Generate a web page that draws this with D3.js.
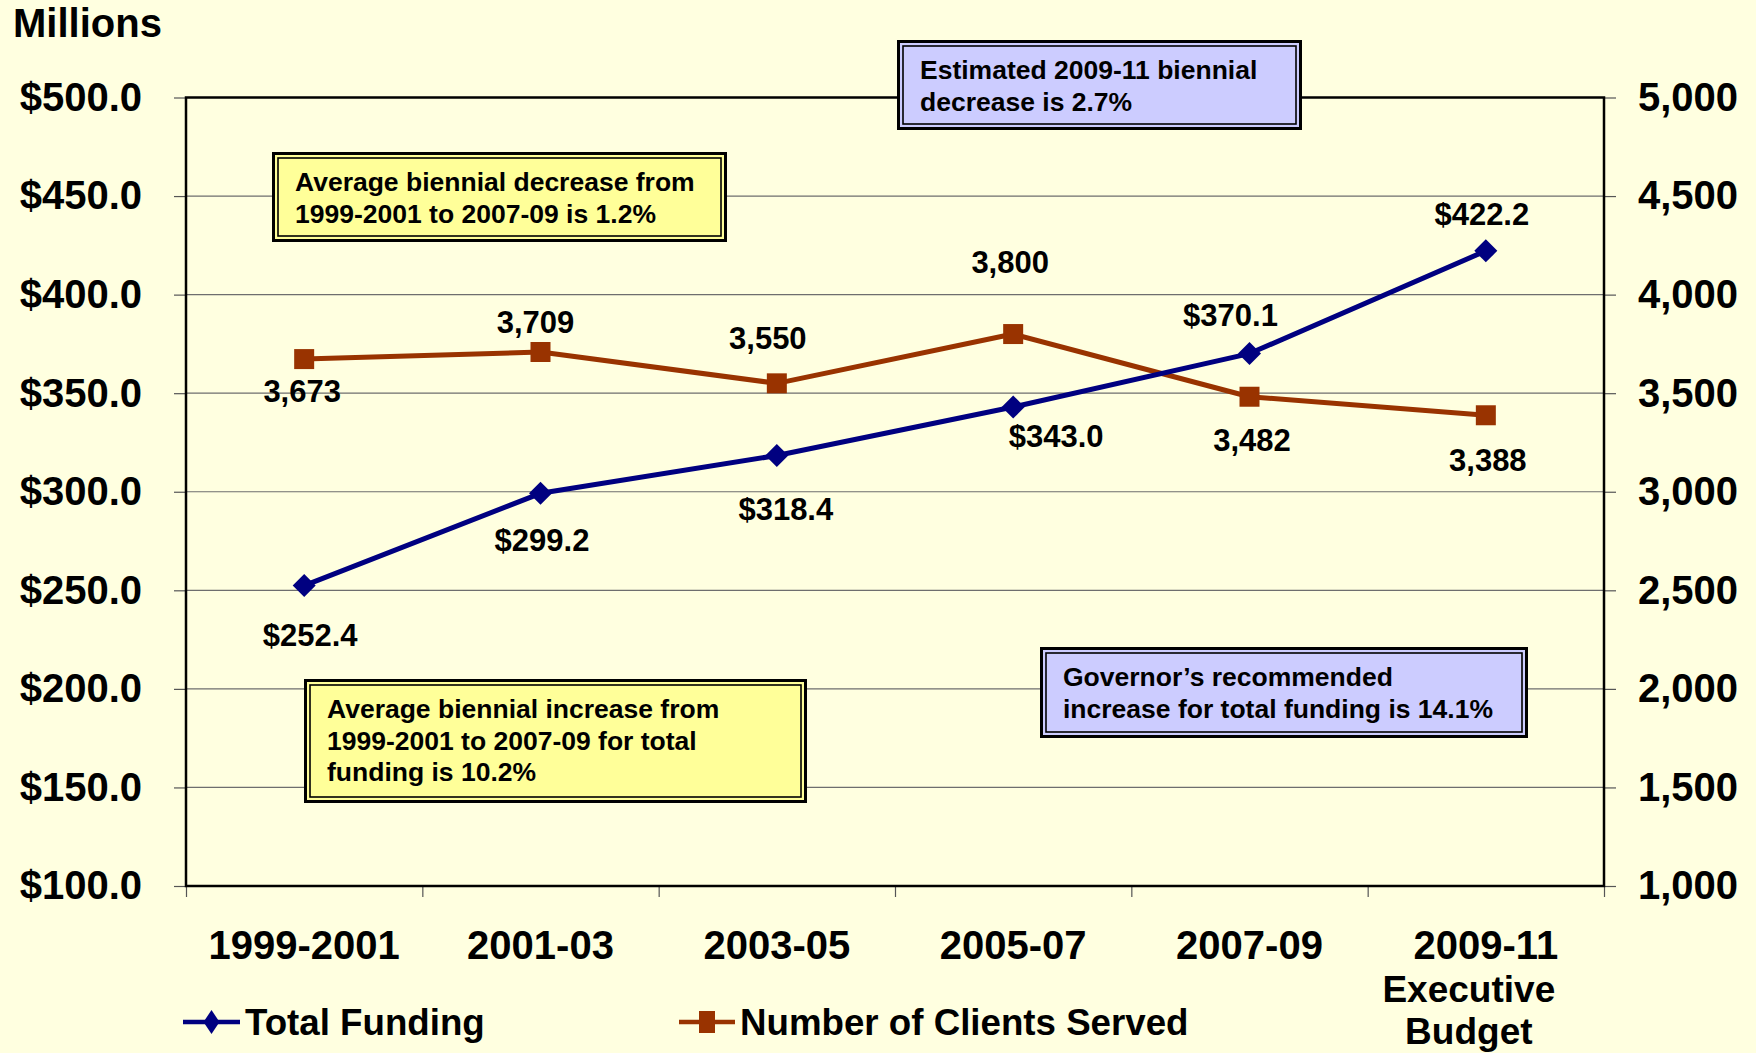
<!DOCTYPE html>
<html>
<head>
<meta charset="utf-8">
<script src="https://cdn.jsdelivr.net/npm/d3@7"></script>
<style>
  body { margin: 0; background: #ffffe0; }
  svg { display: block; }
  text { font-family: "Liberation Sans", Arial, sans-serif; font-weight: bold; fill: #000; }
</style>
</head>
<body>
<svg width="1756" height="1053"></svg>
<script>
const width = 1756, height = 1053;

// data
const periods = ['1999-2001', '2001-03', '2003-05', '2005-07', '2007-09', '2009-11'];
const funding = [252.4, 299.2, 318.4, 343.0, 370.1, 422.2];   // $ millions
const clients = [3673, 3709, 3550, 3800, 3482, 3388];
const leftTicks = [100, 150, 200, 250, 300, 350, 400, 450, 500];
const rightTicks = [1000, 1500, 2000, 2500, 3000, 3500, 4000, 4500, 5000];
const seriesNames = ['Total Funding', 'Number of Clients Served'];

// where each value label sits relative to its point
const fundingLabelShift = [[6, 60], [1.5, 58], [9, 65], [43, 40], [-19, -28], [-4, -26]];
const clientLabelShift = [[-2, 43], [-5, -19], [-9, -34], [-3, -61], [2.5, 54], [2, 56]];

// text boxes
const notes = [
  { lines: ['Average biennial decrease from', '1999-2001 to 2007-09 is 1.2%'], x: 272, y: 152, w: 455, h: 90, fill: '#ffff99' },
  { lines: ['Estimated 2009-11 biennial', 'decrease is 2.7%'], x: 897, y: 40, w: 405, h: 90, fill: '#ccccff' },
  { lines: ['Average biennial increase from', '1999-2001 to 2007-09 for total', 'funding is 10.2%'], x: 304, y: 679, w: 503, h: 124, fill: '#ffff99' },
  { lines: ['Governor\u2019s recommended', 'increase for total funding is 14.1%'], x: 1040, y: 647, w: 488, h: 91, fill: '#ccccff' }
];

const blue = '#000080', brown = '#993300';
const plotLeft = 186, plotRight = 1604, plotTop = 97.5, plotBottom = 886;

const svg = d3.select('svg');
svg.append('rect').attr('width', width).attr('height', height).attr('fill', '#ffffe0');

const x = d3.scaleBand().domain(periods).range([plotLeft, plotRight]);
const cx = d => x(d) + x.bandwidth() / 2;
const yL = d3.scaleLinear().domain([100, 500]).range([plotBottom, plotTop]);
const yR = d3.scaleLinear().domain([1000, 5000]).range([plotBottom, plotTop]);

// gridlines
svg.append('g')
  .selectAll('line')
  .data(leftTicks.slice(1, -1))
  .enter()
  .append('line')
  .attr('x1', plotLeft).attr('x2', plotRight)
  .attr('y1', d => yL(d)).attr('y2', d => yL(d))
  .attr('stroke', '#6e6e6e').attr('stroke-width', 1.2);

// axes
const leftAxis = svg.append('g')
  .attr('transform', `translate(${plotLeft},0)`)
  .call(d3.axisLeft(yL).tickValues(leftTicks).tickSize(12).tickPadding(32)
    .tickFormat(d => '$' + d.toFixed(1)));

const rightAxis = svg.append('g')
  .attr('transform', `translate(${plotRight},0)`)
  .call(d3.axisRight(yR).tickValues(rightTicks).tickSize(12).tickPadding(22)
    .tickFormat(d3.format(',')));

const xEdges = d3.scaleLinear().domain([0, periods.length]).range([plotLeft, plotRight]);
const bottomAxis = svg.append('g')
  .attr('transform', `translate(0,${plotBottom})`)
  .call(d3.axisBottom(xEdges).tickValues(d3.range(periods.length + 1)).tickSize(11).tickFormat(''));

[leftAxis, rightAxis, bottomAxis].forEach(g => {
  g.select('.domain').remove();
  g.selectAll('line').attr('stroke', '#555').attr('stroke-width', 1.2);
  g.selectAll('text')
    .style('font-family', '"Liberation Sans", Arial, sans-serif')
    .style('font-weight', 'bold')
    .style('font-size', '40px')
    .attr('fill', '#000');
});

// plot frame
svg.append('rect')
  .attr('x', plotLeft).attr('y', plotTop)
  .attr('width', plotRight - plotLeft).attr('height', plotBottom - plotTop)
  .attr('fill', 'none').attr('stroke', '#000').attr('stroke-width', 2.5);

// category labels
svg.append('g')
  .selectAll('text')
  .data(periods)
  .enter()
  .append('text')
  .attr('x', d => cx(d))
  .attr('y', 959)
  .attr('text-anchor', 'middle')
  .style('font-size', '40px')
  .text(d => d);

const lastX = cx(periods[periods.length - 1]) - 17;
['Executive', 'Budget'].forEach((t, i) => {
  svg.append('text')
    .attr('x', lastX).attr('y', 1002 + i * 42)
    .attr('text-anchor', 'middle')
    .style('font-size', '37px')
    .text(t);
});

// Millions
svg.append('text')
  .attr('x', 13).attr('y', 37)
  .style('font-size', '40px')
  .text('Millions');

// note boxes
const noteGroups = svg.append('g')
  .selectAll('g')
  .data(notes)
  .enter()
  .append('g')
  .attr('transform', d => `translate(${d.x},${d.y})`);

noteGroups.append('rect')
  .attr('x', 1.5).attr('y', 1.5)
  .attr('width', d => d.w - 3).attr('height', d => d.h - 3)
  .attr('fill', d => d.fill)
  .attr('stroke', '#000').attr('stroke-width', 3);

noteGroups.append('rect')
  .attr('x', 6).attr('y', 6)
  .attr('width', d => d.w - 12).attr('height', d => d.h - 12)
  .attr('fill', 'none')
  .attr('stroke', '#000').attr('stroke-width', 1.6);

noteGroups.each(function(d) {
  const g = d3.select(this);
  d.lines.forEach((line, i) => {
    g.append('text')
      .attr('x', 23).attr('y', 39 + i * 31.5)
      .style('font-size', '26.5px')
      .text(line);
  });
});

// series
const diamond = r => `M0,${-r}L${r},0L0,${r}L${-r},0Z`;

function drawSeries(values, yScale, color, marker) {
  const g = svg.append('g');
  g.append('path')
    .datum(values)
    .attr('fill', 'none')
    .attr('stroke', color)
    .attr('stroke-width', 5)
    .attr('stroke-linejoin', 'round')
    .attr('d', d3.line().x((d, i) => cx(periods[i])).y(d => yScale(d)));

  g.selectAll('.mk')
    .data(values)
    .enter()
    .append('path')
    .attr('class', 'mk')
    .attr('fill', color)
    .attr('transform', (d, i) => `translate(${cx(periods[i])},${yScale(d)})`)
    .attr('d', marker);
}

drawSeries(clients, yR, brown, 'M-10,-10H10V10H-10Z');
drawSeries(funding, yL, blue, diamond(11.5));

// value labels
svg.append('g')
  .selectAll('text')
  .data(clients)
  .enter()
  .append('text')
  .attr('x', (d, i) => cx(periods[i]) + clientLabelShift[i][0])
  .attr('y', (d, i) => yR(d) + clientLabelShift[i][1])
  .attr('text-anchor', 'middle')
  .style('font-size', '31px')
  .text(d => d3.format(',')(d));

svg.append('g')
  .selectAll('text')
  .data(funding)
  .enter()
  .append('text')
  .attr('x', (d, i) => cx(periods[i]) + fundingLabelShift[i][0])
  .attr('y', (d, i) => yL(d) + fundingLabelShift[i][1])
  .attr('text-anchor', 'middle')
  .style('font-size', '31px')
  .text(d => '$' + d.toFixed(1));

// legend
const legend = svg.append('g');
const legendItems = [
  { name: seriesNames[0], color: blue, x0: 183, x1: 240, marker: 'M0,-12L8,0L0,12L-8,0Z' },
  { name: seriesNames[1], color: brown, x0: 679, x1: 735, marker: 'M-8,-11H8V11H-8Z' }
];
legendItems.forEach(it => {
  legend.append('line')
    .attr('x1', it.x0).attr('x2', it.x1)
    .attr('y1', 1022).attr('y2', 1022)
    .attr('stroke', it.color).attr('stroke-width', 4.5);
  legend.append('path')
    .attr('transform', `translate(${(it.x0 + it.x1) / 2},1022)`)
    .attr('d', it.marker)
    .attr('fill', it.color);
  legend.append('text')
    .attr('x', it.x1 + 5).attr('y', 1035)
    .style('font-size', '36.7px')
    .text(it.name);
});
</script>
</body>
</html>
